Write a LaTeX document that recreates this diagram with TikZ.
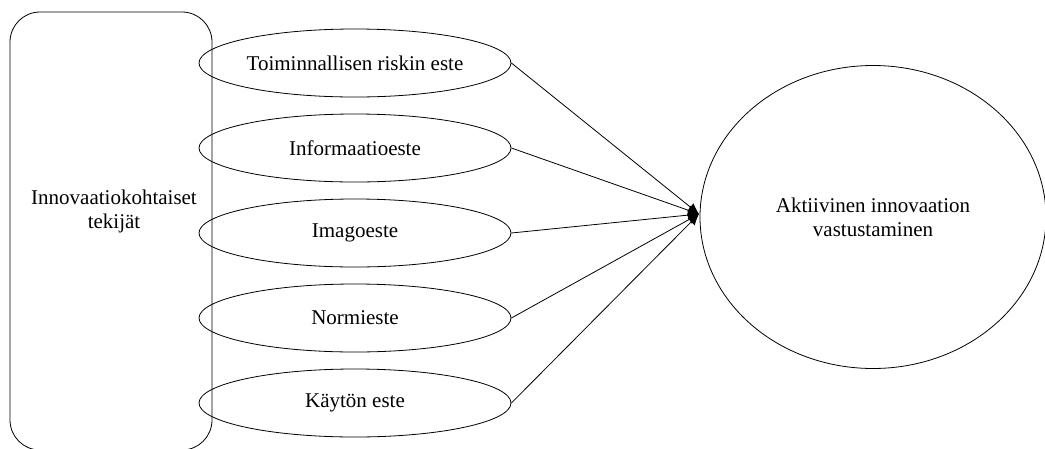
\documentclass[tikz,border=0pt]{standalone}
\usepackage{fontspec}
\setmainfont{Liberation Serif}
\usetikzlibrary{shapes.geometric,arrows.meta}

\begin{document}
\begin{tikzpicture}[x=1pt,y=-1pt,
    every node/.style={font=\fontsize{21}{24}\selectfont},
    este/.style={draw,ellipse,line width=0.8pt,inner sep=0pt,minimum width=312pt,minimum height=68pt},
    >={Latex[length=11pt,width=10pt]}]
  \useasboundingbox (0,0) rectangle (1045,448);
  \node[draw,line width=0.8pt,rounded corners=30pt,minimum width=202pt,minimum height=438pt] (tekijat) at (111,231) {};
  \node[align=center] (tekijatlabel) at (114,211) {Innovaatiokohtaiset\\tekijät};

  \node[este] (e1) at (355,63)  {Toiminnallisen riskin este};
  \node[este] (e2) at (355,148) {Informaatioeste};
  \node[este] (e3) at (355,233) {Imagoeste};
  \node[este] (e4) at (355,318) {Normieste};
  \node[este] (e5) at (355,403) {Käytön este};

  \node[draw,ellipse,line width=0.8pt,inner sep=0pt,minimum width=346pt,minimum height=303pt,align=center] (vast) at (873,217) {Aktiivinen innovaation\\vastustaminen};
  \coordinate (tip) at (699,214);

  \path[->,line width=0.8pt]
    (e1.east) edge (tip)
    (e2.east) edge (tip)
    (e3.east) edge (tip)
    (e4.east) edge (tip)
    (e5.east) edge (tip);
\end{tikzpicture}
\end{document}
